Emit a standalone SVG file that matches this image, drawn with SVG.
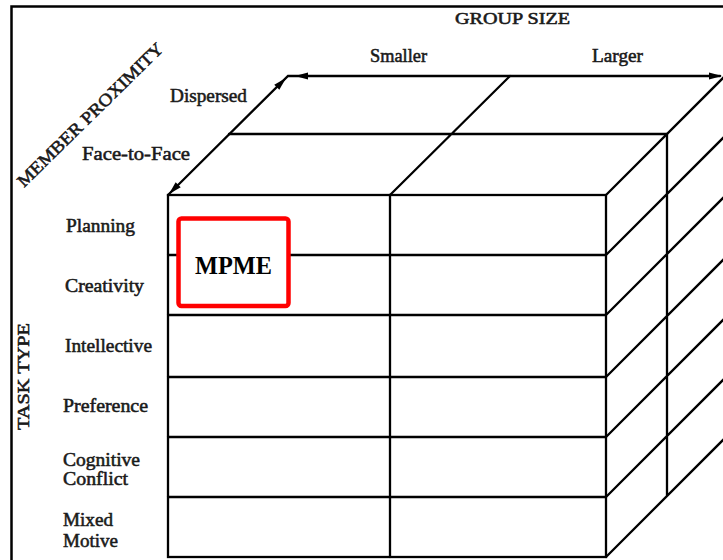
<svg xmlns="http://www.w3.org/2000/svg" width="723" height="560" viewBox="0 0 723 560">
<style>
.ln{stroke:#000;stroke-width:2.3;fill:none;stroke-linecap:round}
.fr{stroke:#000;stroke-width:2.5;fill:none}
.lb{font-family:"Liberation Serif","Times New Roman",serif;font-size:19px;fill:#1a1a1a;stroke:#1a1a1a;stroke-width:0.55}
.cap{font-family:"Liberation Serif","Times New Roman",serif;font-size:16px;fill:#1a1a1a;stroke:#1a1a1a;stroke-width:0.55}
.mp{font-family:"Liberation Serif","Times New Roman",serif;font-size:25px;font-weight:bold;fill:#000}
</style>
<defs>
<path id="ah" d="M0,0 L-13,-3.6 L-13,3.6 Z" fill="#000"/>
</defs>
<rect width="723" height="560" fill="#fff"/>
<g id="frame">
<path class="fr" d="M11.5,560 V6.5 H723"/>
</g>
<g id="cube">
<rect class="ln" x="168" y="195" width="438" height="362"/>
<path class="ln" d="M168,255H606 M168,315H606 M168,377H606 M168,437H606 M168,497H606 M390,195V557"/>
<path class="ln" d="M229,134H667 M390,195L510,76 M606,195L736,65"/>
<path class="ln" d="M606,255L736,125 M606,315L736,185 M606,377L736,247 M606,437L736,307 M606,497L736,367 M606,557L736,427 M667,134V496"/>
</g>
<g id="connectors">
<path class="ln" d="M168,195L288,76H720"/>
<use href="#ah" transform="translate(722,76)"/>
<use href="#ah" transform="translate(295,76) rotate(180)"/>
<use href="#ah" transform="translate(286,78) rotate(-45)"/>
<use href="#ah" transform="translate(169,194) rotate(135)"/>
</g>
<g id="label-group-size"><text class="cap" x="455" y="24" textLength="115" lengthAdjust="spacingAndGlyphs">GROUP SIZE</text></g>
<g id="label-smaller"><text class="lb" x="370" y="62" textLength="57" lengthAdjust="spacingAndGlyphs">Smaller</text></g>
<g id="label-larger"><text class="lb" x="592" y="62" textLength="51" lengthAdjust="spacingAndGlyphs">Larger</text></g>
<g id="label-member-proximity"><text class="cap" style="font-size:17.5px" transform="translate(24,188) rotate(-44.5)" textLength="197" lengthAdjust="spacingAndGlyphs">MEMBER PROXIMITY</text></g>
<g id="label-dispersed"><text class="lb" x="170" y="102" textLength="77" lengthAdjust="spacingAndGlyphs">Dispersed</text></g>
<g id="label-face"><text class="lb" x="82" y="160" textLength="108" lengthAdjust="spacingAndGlyphs">Face-to-Face</text></g>
<g id="label-task-type"><text class="cap" transform="translate(29,430) rotate(-90)" textLength="107" lengthAdjust="spacingAndGlyphs">TASK TYPE</text></g>
<g id="label-planning"><text class="lb" x="66" y="232" textLength="69" lengthAdjust="spacingAndGlyphs">Planning</text></g>
<g id="label-creativity"><text class="lb" x="65" y="292" textLength="79" lengthAdjust="spacingAndGlyphs">Creativity</text></g>
<g id="label-intellective"><text class="lb" x="65" y="352" textLength="87" lengthAdjust="spacingAndGlyphs">Intellective</text></g>
<g id="label-preference"><text class="lb" x="63" y="412" textLength="85" lengthAdjust="spacingAndGlyphs">Preference</text></g>
<g id="label-cognitive"><text class="lb" x="63" y="466" textLength="77" lengthAdjust="spacingAndGlyphs">Cognitive</text><text class="lb" x="63" y="485" textLength="65" lengthAdjust="spacingAndGlyphs">Conflict</text></g>
<g id="label-mixed"><text class="lb" x="63" y="526" textLength="50" lengthAdjust="spacingAndGlyphs">Mixed</text><text class="lb" x="63" y="547" textLength="55" lengthAdjust="spacingAndGlyphs">Motive</text></g>
<g id="mpme">
<rect x="178.5" y="218.5" width="110" height="87.5" rx="3" fill="#fff" stroke="#ff0000" stroke-width="4.5"/>
<text class="mp" x="195" y="274" textLength="77" lengthAdjust="spacingAndGlyphs">MPME</text>
</g>
</svg>
